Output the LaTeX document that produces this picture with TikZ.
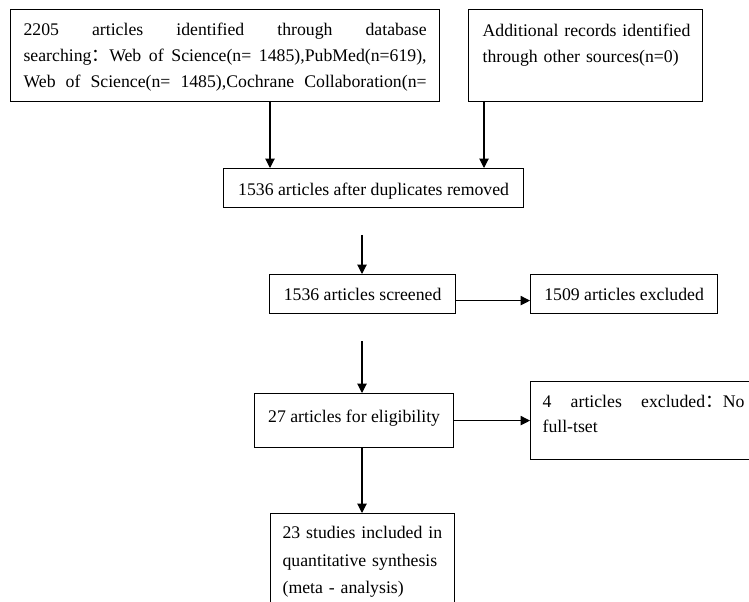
\documentclass[tikz,border=0pt]{standalone}
\usepackage{fontspec}
\setmainfont{Liberation Serif}
\newfontfamily\cjk{Noto Sans CJK SC}
\usetikzlibrary{arrows.meta}
\tikzset{
  box/.style={draw, line width=0.9pt, anchor=north west, inner ysep=0pt},
  arr/.style={-{Triangle[length=7pt,width=7pt]}, line width=0.8pt},
}
\begin{document}
\begin{tikzpicture}[x=0.75pt, y=-0.75pt, font=\fontsize{13.3pt}{19.5pt}\selectfont]
        \useasboundingbox (0,0) rectangle (749,602);
        \clip (0,0) rectangle (749,602);
        \node[box, inner xsep=9.75pt, text width=302.25pt, align=justify, text height=19.5pt, text depth=49.5pt] (srch) at (10,9)
          {\makebox[302.25pt][s]{2205 articles identified through database}\\
           \makebox[302.25pt][s]{searching{\cjk ：}Web of Science(n= 1485),PubMed(n=619),}\\
           \makebox[302.25pt][s]{Web of Science(n= 1485),Cochrane Collaboration(n=}};
        \node[box, inner xsep=10.5pt, text width=154.5pt, align=left, text height=20.25pt, text depth=48.75pt] (other) at (468,9)
          {\mbox{Additional records identified}\\through other sources(n=0)};
        \node[box, minimum width=225pt, text height=20.25pt, text depth=9pt] (dup) at (223,168) {1536 articles after duplicates removed};
        \node[box, minimum width=139.5pt, text height=19.5pt, text depth=9.75pt] (scr) at (269,274) {1536 articles screened};
        \node[box, minimum width=140.25pt, text height=19.5pt, text depth=9.75pt] (exc) at (530,274) {1509 articles excluded};
        \node[box, minimum width=149.25pt, text height=21.75pt, text depth=18.75pt] (elig) at (254,393) {27 articles for eligibility};
        \node[box, inner xsep=9pt, text width=153.75pt, align=justify, text height=19.5pt, text depth=39pt,
              font=\fontsize{13.3pt}{18.75pt}\selectfont] (full) at (530,381)
          {\makebox[151.5pt][s]{4 articles excluded{\cjk ：}No}\\full-tset};
        \node[box, inner xsep=9pt, text width=120pt, align=left, text height=18.75pt, text depth=65.25pt,
              font=\fontsize{13.3pt}{20.6pt}\selectfont] (incl) at (270,513)
          {23 studies included in\\quantitative synthesis\\(meta - analysis)};
        \coordinate (a1) at (270,101);
        \coordinate (b1) at (484,101);
        \coordinate (c1) at (362,235);
        \coordinate (d1) at (362,341);
        \draw[arr] (a1) -- (a1 |- dup.north);
        \draw[arr] (b1) -- (b1 |- dup.north);
        \draw[arr] (c1) -- (c1 |- scr.north);
        \draw[arr] (scr.base east) -- (exc.base west);
        \draw[arr] (d1) -- (d1 |- elig.north);
        \draw[arr] (elig.east) -- (full.west);
        \draw[arr] (d1 |- elig.south) -- (d1 |- incl.north);
        \end{tikzpicture}
\end{document}
